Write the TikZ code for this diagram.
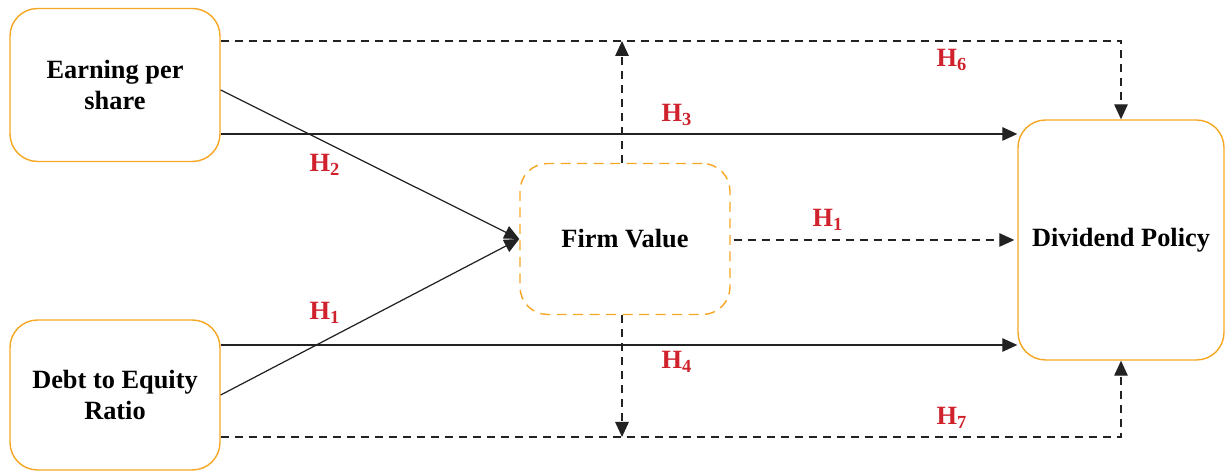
\documentclass[tikz,border=0pt]{standalone}
\usepackage{fontspec}
\setmainfont{Liberation Serif}
\usepackage{xcolor}
\usetikzlibrary{arrows.meta, positioning}
\definecolor{boxorange}{HTML}{F5A623}
\definecolor{hypred}{HTML}{D0222C}
\definecolor{lineblack}{HTML}{222222}
\tikzstyle{varbox} = [rectangle, rounded corners=0.55cm, minimum width=4.2cm, minimum height=3.06cm, text centered, align=center, draw=boxorange, line width=0.8pt, font=\fontsize{15}{18}\selectfont\bfseries]
\tikzstyle{medbox} = [varbox, dash pattern=on 0.2cm off 0.13cm]
\tikzstyle{arrow} = [draw=lineblack, line width=0.7pt, -{Triangle[length=0.3cm, width=0.27cm]}]
\tikzstyle{dasharrow} = [arrow, dash pattern=on 0.16cm off 0.12cm]
\tikzstyle{hyp} = [text=hypred, font=\fontsize{15}{18}\selectfont\bfseries]

\begin{document}
\begin{tikzpicture}[x=0.02cm, y=0.02cm]
    \useasboundingbox (0,0) rectangle (1225,472);
    % Define blocks
    \node (eps) [varbox] at (115,387) {Earning per\\share};
    \node (der) [varbox, minimum height=3.0cm] at (115,77) {Debt to Equity\\Ratio};
    \node (fv) [medbox, minimum height=3.02cm] at (625,233) {Firm Value};
    \node (dp) [varbox, minimum width=4.12cm, minimum height=4.8cm] at (1121,232) {Dividend Policy};
    \coordinate (top) at ([yshift=0.88cm]eps.east);
    \coordinate (bot) at ([yshift=-0.84cm]der.east);

    % Draw arrows
    \draw [dasharrow] (top) -| (dp.north);
    \draw [dasharrow] (bot) -| (dp.south);
    \draw [arrow] ([yshift=-0.98cm]eps.east) -- ([yshift=-0.98cm]eps.east -| dp.west);
    \draw [arrow] ([yshift=1cm]der.east) -- ([yshift=1cm]der.east -| dp.west);
    \draw [arrow] ([yshift=-0.1cm]eps.east) -- (fv.west);
    \draw [arrow] (der.east) -- (fv.west);
    \draw [dasharrow] ([xshift=-0.06cm]fv.north) -- ([xshift=-0.06cm]fv.north |- top);
    \draw [dasharrow] ([xshift=-0.06cm]fv.south) -- ([xshift=-0.06cm]fv.south |- bot);
    \draw [dasharrow, shorten <=0.06cm, shorten >=0.06cm] (fv.east |- dp.west) -- (dp.west);

    % Hypothesis labels
    \node (h6) [hyp] at (952,412) {H\textsubscript{6}};
    \node (h3) [hyp] at (677,357) {H\textsubscript{3}};
    \node (h2) [hyp] at (325,307) {H\textsubscript{2}};
    \node (h1a) [hyp] at (828,252) {H\textsubscript{1}};
    \node (h1b) [hyp] at (325,159) {H\textsubscript{1}};
    \node (h4) [hyp] at (677,110) {H\textsubscript{4}};
    \node (h7) [hyp] at (952,54) {H\textsubscript{7}};
\end{tikzpicture}
\end{document}
